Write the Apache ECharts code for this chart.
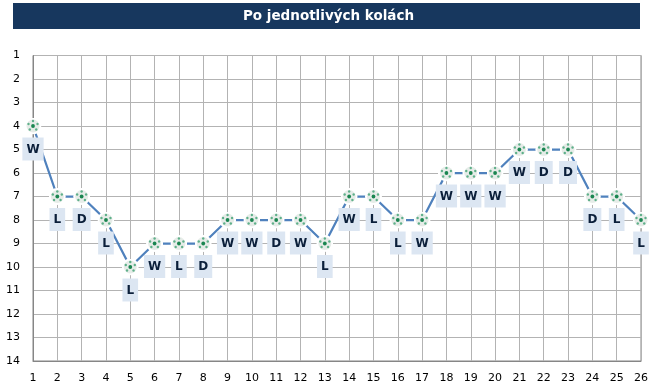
<!DOCTYPE html>
<html>
<head>
<meta charset="utf-8">
<style>
  html, body { margin: 0; padding: 0; background: #fff; }
  #chart { width: 653px; height: 389px; }
</style>
<script src="https://cdn.jsdelivr.net/npm/echarts@6/dist/echarts.min.js"></script>
</head>
<body>
<div id="chart"></div>
<script>
  var rounds = ['1','2','3','4','5','6','7','8','9','10','11','12','13','14','15','16','17','18','19','20','21','22','23','24','25','26'];
  var positions = [4,7,7,8,10,9,9,9,8,8,8,8,9,7,7,8,8,6,6,6,5,5,5,7,7,8];
  var results = ['W','L','D','L','L','W','L','D','W','W','D','W','L','W','L','L','W','W','W','W','W','D','D','D','L','L'];
  var titleText = 'Po jednotlivých kolách';

  // soccer ball marker, the outer white ring keeps the line away from the ball
  var ball = '<svg xmlns="http://www.w3.org/2000/svg" width="34" height="34" viewBox="0 0 34 34">' +
    '<circle cx="17" cy="17" r="17" fill="#fff"/>' +
    '<circle cx="17" cy="17" r="13" fill="#e6ece8"/>' +
    '<circle cx="17" cy="17" r="3.8" fill="#1a8550"/>' +
    '<g fill="#5fb08a"><circle cx="17" cy="7" r="2.4"/><circle cx="26" cy="13" r="2.4"/><circle cx="23.5" cy="24" r="2.4"/>' +
    '<circle cx="10.5" cy="24" r="2.4"/><circle cx="8" cy="13" r="2.4"/></g></svg>';
  var ballSymbol = 'image://data:image/svg+xml;charset=utf-8,' + encodeURIComponent(ball);

  var charts = echarts.init(document.getElementById('chart'));
  charts.setOption({
    animation: false,
    textStyle: { fontFamily: 'DejaVu Sans' },
    graphic: [
      { type: 'rect', shape: { x: 13, y: 3, width: 627, height: 26 }, style: { fill: '#17375e' }, z: 10 },
      { type: 'text', x: 328.5, y: 16, z: 11, style: { text: titleText, fill: '#fff', font: 'bold 13.5px "DejaVu Sans"', align: 'center', verticalAlign: 'middle' } }
    ],
    grid: { show: true, left: 33, right: 12, top: 55.5, bottom: 28, borderColor: '#868686', borderWidth: 1 },
    xAxis: {
      type: 'category',
      data: rounds,
      boundaryGap: false,
      axisTick: { show: false },
      axisLine: { lineStyle: { color: '#868686', width: 1 } },
      splitLine: { show: true, lineStyle: { color: '#b3b3b3', width: 1 } },
      axisLabel: { interval: 0, color: '#000', fontSize: 11, margin: 12 }
    },
    yAxis: {
      type: 'value',
      inverse: true,
      min: 1,
      max: 14,
      interval: 1,
      axisTick: { show: false },
      axisLine: { show: true, lineStyle: { color: '#868686', width: 1 } },
      splitLine: { show: true, lineStyle: { color: '#b3b3b3', width: 1 } },
      axisLabel: { color: '#000', fontSize: 11, margin: 13 }
    },
    series: [{
      type: 'line',
      data: positions,
      clip: false,
      symbol: ballSymbol,
      symbolSize: 17,
      lineStyle: { color: '#4f81bd', width: 2.25 },
      label: {
        show: true,
        position: 'bottom',
        distance: 3,
        formatter: function (params) { return results[params.dataIndex]; },
        color: '#0b1f3a',
        fontSize: 12,
        fontWeight: 'bold',
        backgroundColor: '#dce6f2',
        padding: [6, 4, 5, 4]
      }
    }]
  });
</script>
</body>
</html>
